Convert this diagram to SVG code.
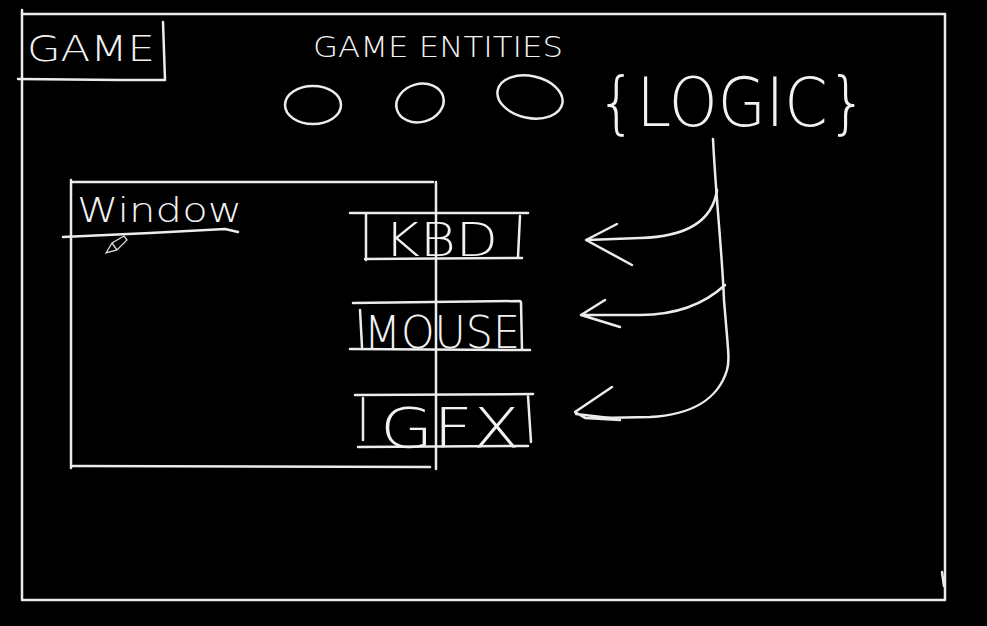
<svg xmlns="http://www.w3.org/2000/svg" width="987" height="626" viewBox="0 0 987 626">
<style>
.ln{fill:none;stroke:#ececec;stroke-width:2.5;stroke-linecap:round;stroke-linejoin:round}
.tx{fill:#f2f2f2;font-family:"DejaVu Sans","Liberation Sans",sans-serif;font-weight:200}
</style>
<rect width="987" height="626" fill="#000"/>
<g id="frame">
<path class="ln" d="M22 10 L22 600 L945 600 L945 14 L22 14"/>
<path class="ln" d="M942 572 L944 586"/>
</g>
<g id="game">
<path class="ln" d="M18 79 L120 80 L165 80 L163 22"/>
<text class="tx" x="27" y="61" font-size="36" textLength="128" lengthAdjust="spacingAndGlyphs">GAME</text>
</g>
<g id="game-entities">
<text class="tx" x="313" y="57" font-size="28" textLength="250" lengthAdjust="spacingAndGlyphs">GAME ENTITIES</text>
<ellipse class="ln" cx="313" cy="105" rx="28" ry="19"/>
<ellipse class="ln" cx="420" cy="103" rx="24" ry="19" transform="rotate(-15 420 103)"/>
<ellipse class="ln" cx="530" cy="97" rx="33" ry="21" transform="rotate(12 530 97)"/>
</g>
<g id="logic">
<text class="tx" x="597" y="126" font-size="68" textLength="270" lengthAdjust="spacingAndGlyphs">{LOGIC}</text>
</g>
<g id="window">
<path class="ln" d="M71 180 L71 468 M73 182 L433 182 M73 466 L430 467 M436 182 L436 469"/>
<path class="ln" d="M63 237 L150 233 L225 229 L238 232"/>
<text class="tx" x="77" y="222" font-size="34" textLength="165" lengthAdjust="spacingAndGlyphs">Window</text>
<path fill="none" stroke="#ddd" stroke-width="1.3" d="M106 253 L112 243 L124 236 L127 240 L117 250 Z M112 243 L117 250"/>
</g>
<g id="kbd">
<path class="ln" d="M350 213 L528 213 M365 259 L522 258 M366 214 L366 260 M520 216 L518 257"/>
<text class="tx" x="384" y="256" font-size="46" textLength="114" lengthAdjust="spacingAndGlyphs">KBD</text>
</g>
<g id="mouse">
<path class="ln" d="M353 303 L520 301 M350 349 L530 350 M360 310 L362 347 M521 302 L522 350"/>
<text class="tx" x="364" y="348" font-size="44" textLength="156" lengthAdjust="spacingAndGlyphs">MOUSE</text>
</g>
<g id="gfx">
<path class="ln" d="M355 395 L533 394 M358 447 L528 446 M363 398 L363 440 M528 396 L531 442"/>
<text class="tx" x="380" y="447" font-size="56" textLength="140" lengthAdjust="spacingAndGlyphs">GFX</text>
</g>
<g id="connectors">
<path class="ln" d="M713 139 C716 200 722 250 724 300 C728 350 730 360 727 370 C718 400 690 415 650 417 L600 418"/>
<path class="ln" d="M717 190 C712 225 680 237 640 238 L587 240 M617 224 L586 240 L632 265"/>
<path class="ln" d="M725 285 C700 308 670 315 640 315 L582 315 M605 300 L581 315 L620 327"/>
<path class="ln" d="M612 387 L575 412 L585 418 L620 420 M576 414 L610 418"/>
</g>
</svg>
